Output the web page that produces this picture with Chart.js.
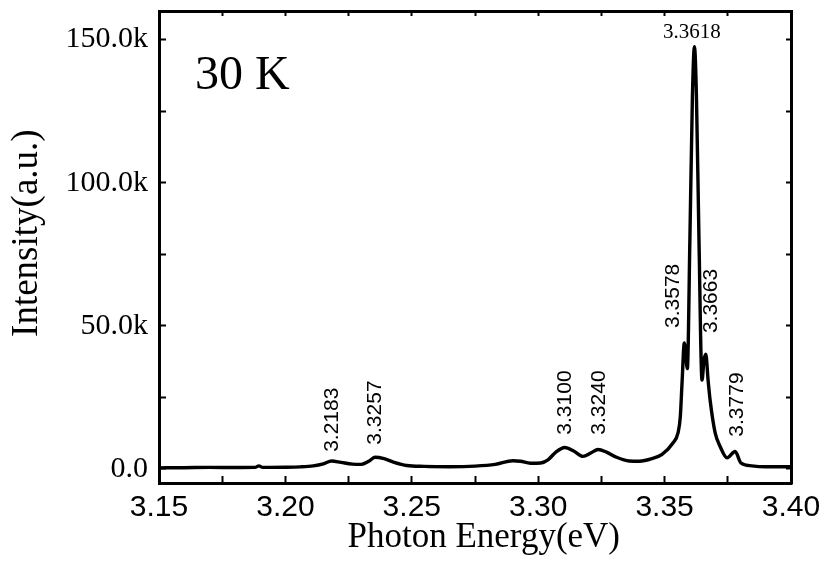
<!DOCTYPE html>
<html>
<head>
<meta charset="utf-8">
<title>PL spectrum 30 K</title>
<script src="https://cdn.jsdelivr.net/npm/chart.js@4.4.0/dist/chart.umd.min.js"></script>
<style>
    body { margin: 0; background: #fff; }
    canvas { display: block; }
</style>
</head>
<body>
<canvas id="myChart" width="827" height="562"></canvas>
<script>
// spectrum (eV, counts)
const energy = [3.150, 3.160, 3.170, 3.180, 3.188, 3.1895, 3.191, 3.200, 3.206, 3.211,
    3.2150, 3.2183, 3.222, 3.2265, 3.2300, 3.2330, 3.2354, 3.2390, 3.2430, 3.2480,
    3.2550, 3.2650, 3.2750, 3.2830, 3.2900, 3.2930, 3.2970, 3.3010, 3.3040, 3.3070,
    3.3105, 3.3140, 3.3177, 3.3210, 3.3237, 3.3270, 3.3310, 3.3360, 3.3400, 3.3450,
    3.3490, 3.3533, 3.3553, 3.3562, 3.3569, 3.3578, 3.3590, 3.3600, 3.3610, 3.3618,
    3.3626, 3.3636, 3.3648, 3.3656, 3.3663, 3.3672, 3.3680, 3.3700, 3.3720, 3.3747,
    3.3779, 3.3802, 3.3845, 3.3900, 3.3950, 3.4000];
const intensity = [300, 350, 450, 400, 450, 1000, 450, 500, 650, 1000,
    1700, 2700, 2200, 1600, 1500, 2600, 4000, 3500, 2200, 1100,
    800, 700, 900, 1500, 2800, 2600, 1900, 2000, 3200, 5800,
    7400, 6200, 4300, 5600, 6700, 5800, 4000, 2700, 2600, 3500,
    5000, 9000, 12500, 18000, 30000, 44000, 35000, 80000, 130000, 147500,
    130000, 80000, 31000, 38000, 40000, 31000, 24000, 12500, 7700, 3800,
    6000, 2000, 1000, 700, 700, 700];

// axis ranges and ticks
const xMin = 3.15, xMax = 3.40;
const yMin = -5000, yMax = 160000;
const xTicks = [3.15, 3.175, 3.20, 3.225, 3.25, 3.275, 3.30, 3.325, 3.35, 3.375, 3.40];
const xTickLabels = ['3.15', '', '3.20', '', '3.25', '', '3.30', '', '3.35', '', '3.40'];
const yTicks = [0, 25000, 50000, 75000, 100000, 125000, 150000];
const yTickLabels = ['0.0', '', '50.0k', '', '100.0k', '', '150.0k'];

// peak labels (text, energy, intensity where the text starts)
const peakNames = ['3.2183', '3.3257', '3.3100', '3.3240', '3.3578', '3.3663', '3.3779'];
const peakEnergy = [3.2184, 3.2354, 3.3106, 3.3240, 3.3533, 3.3684, 3.3787];
const peakBase = [5900, 8400, 11900, 11900, 49200, 47400, 11200];
const topPeak = { text: '3.3618', x: 3.3608, y: 152400 };
const tempLabel = { text: '30 K', x: 3.1642, y: 132600 };

const points = energy.map((e, i) => ({ x: e, y: intensity[i] }));

// text on top of the plot
const labelPlugin = {
    id: 'peakLabels',
    afterDatasetsDraw(chart) {
        const { ctx, scales: { x, y } } = chart;
        ctx.save();
        ctx.fillStyle = '#000';

        // rotated peak labels
        ctx.font = '21px "Liberation Sans", Arial, sans-serif';
        ctx.textAlign = 'left';
        ctx.textBaseline = 'middle';
        peakNames.forEach((name, i) => {
            ctx.save();
            ctx.translate(x.getPixelForValue(peakEnergy[i]), y.getPixelForValue(peakBase[i]));
            ctx.rotate(-Math.PI / 2);
            ctx.fillText(name, 0, 0);
            ctx.restore();
        });

        // main peak
        ctx.font = '21px "Liberation Serif", "Times New Roman", serif';
        ctx.textAlign = 'center';
        ctx.fillText(topPeak.text, x.getPixelForValue(topPeak.x), y.getPixelForValue(topPeak.y));

        // temperature
        ctx.font = '48px "Liberation Serif", "Times New Roman", serif';
        ctx.textAlign = 'left';
        ctx.textBaseline = 'alphabetic';
        ctx.fillText(tempLabel.text, x.getPixelForValue(tempLabel.x), y.getPixelForValue(tempLabel.y));
        ctx.restore();
    }
};

const frameGrid = len => ({
    drawOnChartArea: false,
    tickLength: len,
    tickColor: '#000',
    tickWidth: 2
});
const frameBorder = { display: true, color: '#000', width: 3 };

// fixed ticks from the arrays
const setTicks = list => scale => { scale.ticks = list.map(v => ({ value: v })); };

// fixed box sizes, no label overhang padding
const fixHeight = h => s => { s.height = h; s.paddingLeft = 0; s.paddingRight = 0; };
const fixWidth = w => s => { s.width = w; s.paddingTop = 0; s.paddingBottom = 0; };

const serif = '"Liberation Serif", "Times New Roman", serif';
const nbsp = '\u00a0';

const chart = new Chart('myChart', {
    type: 'line',
    data: {
        datasets: [{
            data: points,
            borderColor: '#000',
            borderWidth: 3.4,
            pointRadius: 0,
            cubicInterpolationMode: 'monotone',
            fill: false
        }]
    },
    options: {
        responsive: false,
        animation: false,
        devicePixelRatio: 1,
        layout: { padding: { left: 0, top: 11, right: 36, bottom: 0 } },
        plugins: {
            legend: { display: false },
            tooltip: { enabled: false }
        },
        scales: {
            x: {
                type: 'linear',
                position: 'bottom',
                min: xMin,
                max: xMax,
                afterBuildTicks: setTicks(xTicks),
                ticks: {
                    autoSkip: false,
                    maxRotation: 0,
                    padding: 14,
                    color: '#000',
                    font: { family: '"Liberation Sans", Arial, sans-serif', size: 30 },
                    callback: (v, i) => xTickLabels[i]
                },
                grid: frameGrid(-7),
                border: frameBorder,
                title: {
                    display: true,
                    // leading spaces nudge the title right like the original
                    text: nbsp.repeat(2) + 'Photon Energy(eV)',
                    color: '#000',
                    font: { family: serif, size: 35 },
                    padding: { top: 0, bottom: 3 }
                },
                afterFit: fixHeight(79)
            },
            x2: {
                type: 'linear',
                position: 'top',
                min: xMin,
                max: xMax,
                afterBuildTicks: setTicks(xTicks),
                ticks: { display: false },
                grid: frameGrid(-5),
                border: frameBorder,
                afterFit: fixHeight(0)
            },
            y: {
                type: 'linear',
                position: 'left',
                min: yMin,
                max: yMax,
                afterBuildTicks: setTicks(yTicks),
                ticks: {
                    autoSkip: false,
                    padding: 18,
                    color: '#000',
                    font: { family: serif, size: 30 },
                    callback: (v, i) => yTickLabels[i]
                },
                grid: frameGrid(-7),
                border: frameBorder,
                title: {
                    display: true,
                    // leading spaces lift the title a bit
                    text: nbsp.repeat(3) + 'Intensity(a.u.)',
                    color: '#000',
                    font: { family: serif, size: 37 },
                    padding: { top: 5, bottom: 0 }
                },
                afterFit: fixWidth(159)
            },
            y2: {
                type: 'linear',
                position: 'right',
                min: yMin,
                max: yMax,
                afterBuildTicks: setTicks(yTicks),
                ticks: { display: false },
                grid: frameGrid(-5),
                border: frameBorder,
                afterFit: fixWidth(0)
            }
        }
    },
    plugins: [labelPlugin]
});
</script>
</body>
</html>
